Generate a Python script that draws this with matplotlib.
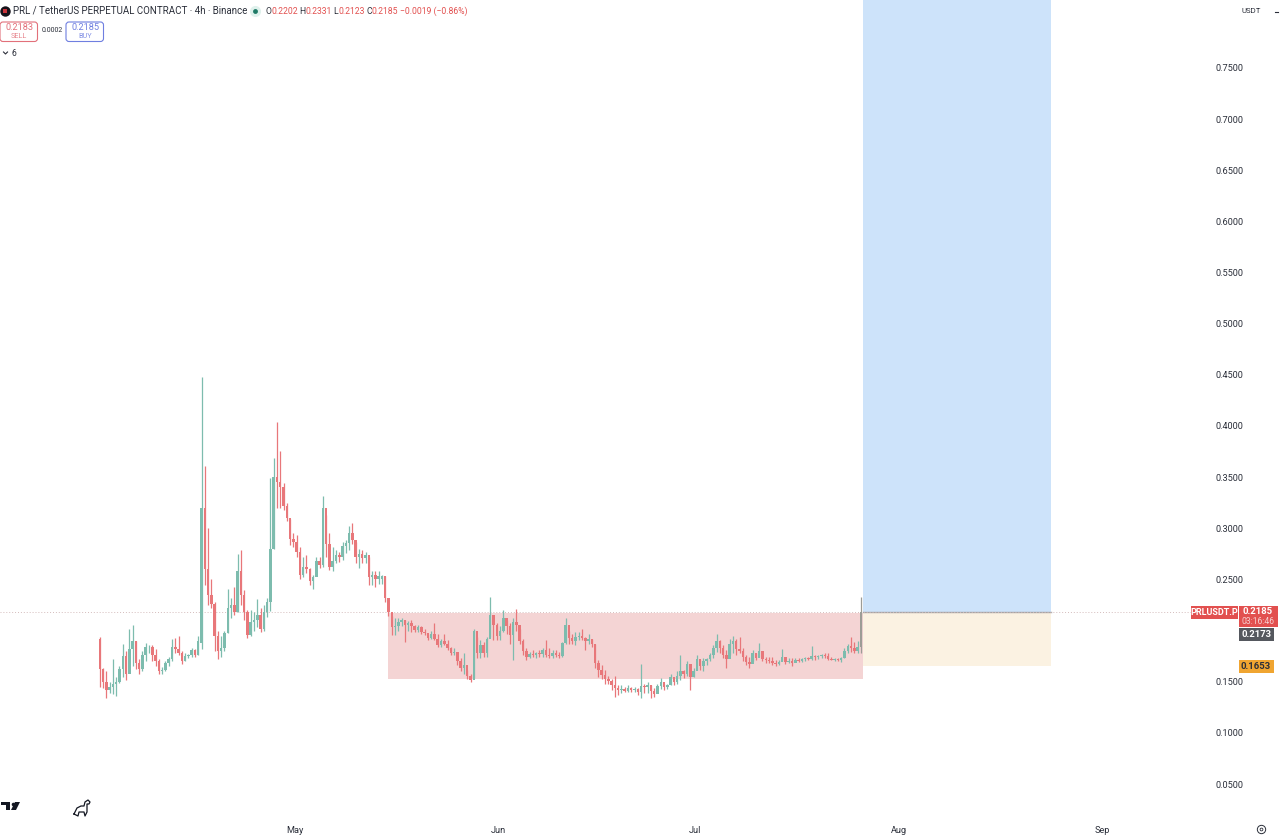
import matplotlib
matplotlib.use("Agg")
import matplotlib.pyplot as plt
import matplotlib.dates as mdates
import pandas as pd
from matplotlib.patches import FancyBboxPatch, Polygon, Rectangle

plt.rcParams['font.family'] = ['Roboto', 'DejaVu Sans']

# 12h candles
opens = [.192,.162,.150,.142,.145,.148,.150,.162,.175,.158,.182,.190,.168,.162,.176,.184,.184,.176,.170,.160,.161,
         .168,.172,.184,.182,.178,.170,.175,.176,.181,.176,.188,.320,.260,.235,.226,.195,.180,.183,.198,.222,
         .225,.218,.258,.235,.218,.196,.208,.210,.215,.202,.218,.228,.280,.350,.345,.340,.322,.310,.290,.287,
         .277,.254,.262,.260,.248,.252,.268,.264,.320,.285,.262,.268,.274,.272,.283,.286,.295,.289,.272,.275,
         .271,.274,.252,.254,.250,.250,.253,.232,.218,.203,.204,.208,.210,.205,.207,.204,.201,.203,.199,
         .198,.193,.197,.192,.186,.190,.187,.183,.178,.179,.170,.163,.166,.156,.152,.200,.178,.186,.178,.192,
         .215,.205,.195,.200,.212,.204,.196,.208,.205,.190,.180,.174,.177,.176,.178,.177,.181,.176,.175,.178,
         .176,.175,.188,.205,.193,.190,.194,.195,.193,.190,.192,.187,.168,.161,.157,.153,.151,.147,.144,.142,
         .143,.141,.144,.142,.143,.140,.146,.145,.147,.141,.138,.146,.150,.145,.147,.155,.150,.156,.160,.158,
         .167,.155,.160,.172,.165,.170,.172,.176,.183,.190,.183,.176,.172,.187,.190,.182,.180,.174,.169,.167,
         .178,.173,.180,.172,.171,.170,.168,.167,.169,.174,.169,.170,.168,.171,.170,.172,.173,.172,.175,.174,
         .175,.176,.175,.172,.171,.172,.171,.173,.180,.185,.183,.180,.184]
highs = [.194,.163,.160,.150,.172,.155,.165,.187,.180,.202,.205,.190,.172,.180,.188,.186,.186,.182,.172,.164,.170,
         .174,.192,.193,.195,.180,.178,.177,.183,.182,.195,.448,.361,.300,.250,.228,.200,.195,.200,.241,.232,
         .243,.275,.279,.240,.220,.220,.218,.231,.222,.225,.232,.349,.369,.404,.376,.344,.325,.309,.295,.293,
         .282,.272,.274,.261,.254,.272,.272,.332,.313,.295,.282,.279,.277,.287,.289,.302,.305,.287,.280,.279,
         .277,.272,.258,.258,.258,.254,.253,.230,.214,.212,.212,.212,.210,.209,.210,.205,.205,.204,.202,
         .197,.200,.207,.197,.192,.197,.191,.184,.183,.178,.173,.178,.161,.158,.202,.194,.191,.189,.194,.233,
         .214,.207,.204,.220,.210,.207,.212,.221,.202,.192,.183,.179,.181,.179,.181,.183,.191,.183,.181,.181,
         .179,.189,.212,.200,.197,.199,.199,.202,.194,.197,.192,.187,.171,.166,.161,.156,.153,.156,.147,.147,
         .145,.147,.145,.145,.144,.167,.148,.150,.147,.144,.148,.154,.148,.148,.158,.155,.160,.176,.161,.170,
         .166,.163,.176,.171,.173,.173,.178,.186,.197,.191,.186,.181,.192,.195,.192,.194,.183,.176,.174,.181,
         .178,.188,.176,.174,.174,.174,.171,.171,.182,.173,.173,.173,.173,.173,.173,.174,.174,.185,.176,.176,
         .177,.178,.178,.174,.173,.173,.174,.183,.187,.194,.189,.190,.233]
lows = [.145,.144,.134,.139,.138,.136,.149,.155,.152,.160,.165,.162,.158,.160,.170,.178,.170,.165,.158,.158,.160,
        .165,.170,.178,.176,.167,.170,.173,.174,.174,.176,.182,.245,.225,.222,.180,.172,.174,.180,.198,.212,
        .215,.218,.225,.210,.193,.195,.200,.203,.199,.200,.213,.219,.280,.320,.320,.318,.307,.284,.282,.272,
        .250,.252,.256,.245,.241,.253,.261,.262,.272,.259,.258,.266,.267,.269,.276,.279,.285,.266,.261,.266,
        .266,.245,.245,.243,.246,.246,.228,.214,.196,.196,.200,.204,.189,.200,.199,.199,.199,.197,.196,
        .191,.192,.191,.184,.184,.186,.181,.176,.176,.166,.160,.158,.153,.150,.154,.173,.173,.174,.174,.194,
        .191,.191,.191,.199,.197,.187,.171,.200,.187,.176,.171,.173,.174,.173,.174,.174,.174,.173,.173,.174,
        .173,.174,.187,.187,.187,.186,.191,.191,.181,.187,.184,.163,.155,.153,.148,.148,.142,.135,.137,.139,
        .140,.140,.140,.140,.137,.134,.139,.139,.134,.135,.139,.143,.142,.143,.147,.147,.148,.152,.154,.156,
        .142,.155,.161,.161,.160,.166,.170,.173,.179,.178,.173,.163,.176,.178,.176,.178,.170,.166,.163,.170,
        .171,.174,.170,.168,.168,.166,.165,.166,.170,.167,.168,.165,.169,.169,.169,.170,.171,.171,.171,.172,
        .173,.173,.171,.171,.170,.170,.169,.173,.178,.179,.178,.178,.178]
closes = [.162,.150,.142,.145,.148,.150,.162,.175,.158,.182,.190,.168,.162,.176,.184,.184,.176,.170,.160,.161,.168,
          .172,.184,.182,.178,.170,.175,.176,.181,.176,.190,.320,.260,.235,.226,.195,.180,.183,.198,.222,.225,
          .218,.258,.235,.218,.196,.208,.210,.215,.202,.218,.228,.280,.350,.345,.340,.322,.310,.290,.287,.277,
          .254,.262,.260,.248,.252,.268,.264,.320,.285,.262,.268,.274,.272,.283,.286,.295,.289,.272,.275,.271,
          .274,.252,.254,.250,.253,.253,.232,.218,.203,.204,.208,.210,.205,.207,.204,.201,.203,.199,.198,
          .193,.197,.192,.186,.190,.187,.183,.178,.179,.170,.163,.166,.156,.152,.200,.178,.186,.178,.192,.215,
          .205,.195,.200,.212,.204,.196,.208,.205,.190,.180,.174,.177,.176,.178,.177,.181,.176,.175,.178,.176,
          .175,.188,.205,.193,.190,.194,.195,.193,.190,.192,.187,.168,.161,.157,.153,.151,.147,.144,.142,.143,
          .141,.144,.142,.143,.140,.146,.145,.147,.141,.138,.146,.150,.145,.147,.155,.150,.156,.160,.158,.167,
          .155,.160,.172,.165,.170,.172,.176,.183,.190,.183,.176,.172,.187,.190,.182,.180,.174,.169,.167,.178,
          .173,.180,.172,.171,.170,.168,.167,.169,.174,.169,.170,.168,.171,.170,.172,.173,.172,.175,.174,.175,
          .176,.175,.172,.171,.172,.171,.173,.180,.185,.183,.180,.184,.2185]

# 0.2000 is hidden behind the price tags in the original
price_ticks = [.05, .10, .15, .25, .30, .35, .40, .45, .50, .55, .60, .65, .70, .75]
month_ticks = ['2025-05-01', '2025-06-01', '2025-07-01', '2025-08-01', '2025-09-01']

box_start, box_end, target_end = '2025-05-15 04:00', '2025-07-26 14:00', '2025-08-24 05:00'
range_top, range_bottom = .2172, .1526
entry, stop, target = .2181, .1653, .8165
last_price = .2185

times = pd.date_range('2025-04-01 06:00', periods=len(closes), freq='12h')
x = mdates.date2num(times)

fig = plt.figure(figsize=(12.8, 8.39), dpi=100)
ax = fig.add_axes([0, 19 / 839, 1212 / 1280, 820 / 839])

may1 = mdates.date2num(pd.Timestamp('2025-05-01'))
px_day = 807 / 123
ax.set_xlim(may1 - 295 / px_day, may1 + (1212 - 295) / px_day)
ax.set_ylim(.05 + (784 - 820) / 1022.9, .05 + 784 / 1022.9)

def span(start, end, low, high, color):
    x0, x1 = mdates.date2num(pd.Timestamp(start)), mdates.date2num(pd.Timestamp(end))
    ax.add_patch(Rectangle((x0, low), x1 - x0, high - low, color=color, lw=0, zorder=1))
    return x0, x1

span(box_start, box_end, range_bottom, range_top, '#f4d4d4')
span(box_end, target_end, stop, entry, '#fbf2e2')
x0, x1 = span(box_end, target_end, entry, target, '#cde3fa')
ax.plot([x0, x1], [entry, entry], color='#a5a5a5', lw=1, zorder=2)
ax.axhline(last_price, color='#d4bcbc', lw=.7, ls=(0, (1, 2)), zorder=2)

colors = ['#7dbcae' if c >= o else '#e8777a' for o, c in zip(opens, closes)]
colors[-1] = '#9c9c96'
ax.vlines(x, lows, highs, colors=colors, lw=.9, zorder=3)
ax.bar(x, [abs(c - o) for o, c in zip(opens, closes)], bottom=[min(o, c) for o, c in zip(opens, closes)],
       width=.38, color=colors, lw=0, zorder=4)

ax.set_yticks(price_ticks)
ax.set_yticklabels([f'{p:.4f}' for p in price_ticks])
ax.yaxis.tick_right()
ax.set_xticks(mdates.date2num(pd.to_datetime(month_ticks)))
ax.xaxis.set_major_formatter(mdates.DateFormatter('%b'))
ax.tick_params(axis='y', length=0, pad=2.5, labelsize=6.6, labelcolor='#2a2e39')
ax.tick_params(axis='x', length=0, pad=4, labelsize=6.6, labelcolor='#2a2e39')
for s in ax.spines.values():
    s.set_visible(False)

# overlay in pixel coordinates for the TradingView chrome
ui = fig.add_axes([0, 0, 1, 1])
ui.set_xlim(0, 1280)
ui.set_ylim(839, 0)
ui.axis('off')
ui.patch.set_alpha(0)

RED = '#e2504f'
INK = '#131722'

def tag(x0, y0, w, h, color):
    ui.add_patch(Rectangle((x0, y0), w, h, color=color, lw=0))

def order_box(x0, color, price, word):
    ui.add_patch(FancyBboxPatch((x0, 22), 37.5, 19.5, boxstyle='round,pad=0,rounding_size=3',
                                fc='white', ec=color, lw=.8))
    ui.text(x0 + 19, 27.5, price, color=color, fontsize=6.6, ha='center', va='center')
    ui.text(x0 + 19, 36.5, word, color=color, fontsize=5.2, ha='center', va='center', alpha=.85)

# header
ui.plot([5], [11], 'o', ms=7.5, color='#15131a', mew=0)
ui.plot([5], [11], 's', ms=2.5, color='#c8323a', mew=0)
ui.text(13, 11, 'PRL / TetherUS PERPETUAL CONTRACT · 4h · Binance', fontsize=7.0, color='#2a2e39', va='center')
ui.plot([255], [11], 'o', ms=8, color='#dff1ec', mew=0)
ui.plot([255], [11], 'o', ms=3.5, color='#1f7a66', mew=0)
for xpos, label, value in [(265.5, 'O', '0.2202'), (299.5, 'H', '0.2331'), (333, 'L', '0.2123'), (366.5, 'C', '0.2185')]:
    ui.text(xpos, 11, label, fontsize=6.2, color='#2a2e39', va='center')
    ui.text(xpos + 5.5, 11, value, fontsize=6.2, color=RED, va='center')
ui.text(400, 11, '−0.0019 (−0.86%)', fontsize=6.2, color=RED, va='center')

order_box(0, '#e2707a', '0.2183', 'SELL')
order_box(66, '#6f7fe0', '0.2185', 'BUY')
ui.text(52, 31, '0.0002', fontsize=5, color='#2a2e39', ha='center', va='center')
ui.plot([3.5, 5.5, 7.5], [52, 54, 52], color='#2a2e39', lw=.8)
ui.text(13.5, 53, '6', fontsize=6.2, color='#2a2e39', ha='center', va='center')

# price scale tags
tag(1191, 606, 47, 13, RED)
ui.text(1214.5, 612.5, 'PRLUSDT.P', fontsize=6.5, weight='bold', color='white', ha='center', va='center')
tag(1238.5, 606, 39, 21, RED)
ui.text(1258, 612, '0.2185', fontsize=6.8, weight='bold', color='white', ha='center', va='center')
ui.text(1258, 622, '03:16:46', fontsize=6.2, color='#f6cfcf', ha='center', va='center')
tag(1238.5, 628, 35, 12.5, '#55585e')
ui.text(1256, 634.5, '0.2173', fontsize=6.8, weight='bold', color='white', ha='center', va='center')
tag(1238.5, 660, 35, 13, '#f0a531')
ui.text(1256, 666.5, '0.1653', fontsize=6.8, weight='bold', color='#2a2e39', ha='center', va='center')

ui.text(1251, 11, 'USDT', fontsize=5.6, color='#2a2e39', ha='center', va='center')
ui.plot([1275, 1278], [12, 12], color='#2a2e39', lw=.8)

# logo, dino and settings icon
ui.add_patch(Polygon([(1, 802), (10, 802), (10, 810), (5.5, 810), (5.5, 805), (1, 805)], color=INK, lw=0))
ui.plot([12.5], [803.5], 'o', ms=2.6, color=INK, mew=0)
ui.add_patch(Polygon([(15, 802), (20, 802), (16, 810), (11, 810)], color=INK, lw=0))
ui.plot([74, 77, 81, 84, 85, 88, 90, 89, 87, 87, 85, 84, 79, 78, 74],
        [814, 808, 806, 806, 802, 800, 802, 804, 804, 812, 816, 812, 812, 816, 814], color=INK, lw=.9)
ui.plot([1261], [829], 'o', ms=6, mfc='white', mec='#2a2e39', mew=.7)
ui.plot([1261], [829], 'o', ms=2, mfc='white', mec='#2a2e39', mew=.6)

fig.savefig('out.png', dpi=100)
